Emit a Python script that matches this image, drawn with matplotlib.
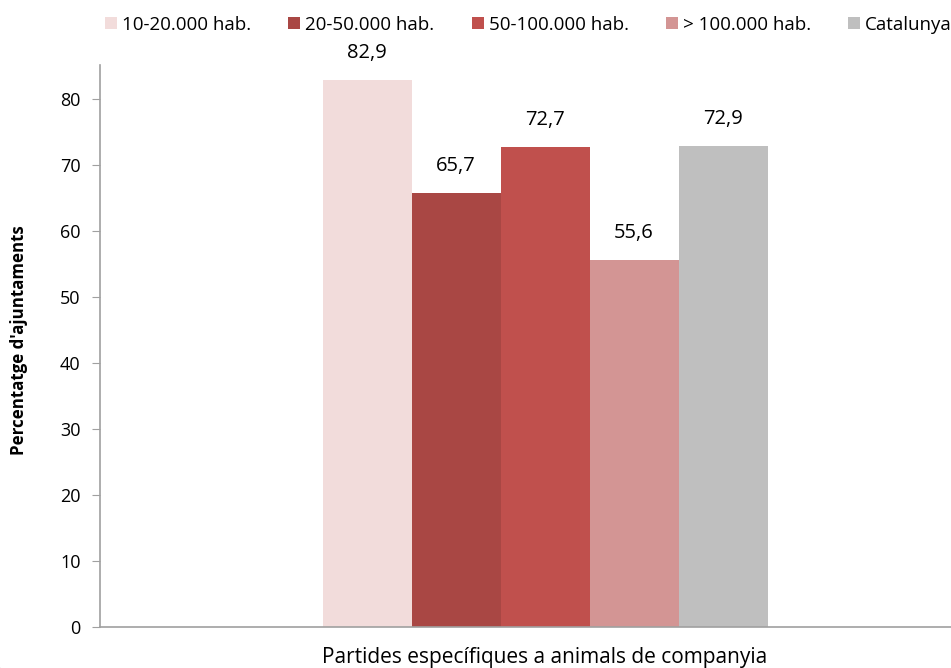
import matplotlib
matplotlib.use("Agg")
import matplotlib.pyplot as plt
from matplotlib.patches import Arc
import numpy as np

categories = ["Partides específiques a animals de companyia"]
series = ["10-20.000 hab.", "20-50.000 hab.", "50-100.000 hab.", "> 100.000 hab.", "Catalunya"]
values = [82.9, 65.7, 72.7, 55.6, 72.9]
labels = ["82,9", "65,7", "72,7", "55,6", "72,9"]
colors = ["#F2DCDB", "#A94744", "#C0504D", "#D39594", "#BFBFBF"]

plt.rcParams['font.family'] = ['Open Sans', 'DejaVu Sans']

fig = plt.figure(figsize=(9.51, 6.68), dpi=100)
ax = fig.add_axes([100/951, 1-627/668, 890/951, (627-65)/668])

n = len(series)
w = 0.1
x0 = 0
for i, (s, v, lab, c) in enumerate(zip(series, values, labels, colors)):
    xpos = x0 + (i - (n-1)/2) * w
    ax.bar(xpos, v, width=w, color=c, label=s, edgecolor='none')
    ax.text(xpos, v + 4.1, lab, ha='center', va='center', fontsize=14.5, color='#000000')

ax.set_xlim(-0.5, 0.5)
ax.set_ylim(0, 85.15)
ax.set_yticks(np.arange(0, 81, 10))
ax.tick_params(axis='y', labelsize=13, length=6, color='#A0A0A0', direction='out', pad=8)
ax.set_xticks([])
for sp in ['top', 'right']:
    ax.spines[sp].set_visible(False)
ax.spines['left'].set_color('#A0A0A0')
ax.spines['bottom'].set_color('#A0A0A0')
ax.spines['left'].set_linewidth(1.2)
ax.spines['bottom'].set_linewidth(1.2)
ax.set_ylabel("Percentatge d'ajuntaments", fontsize=12.2, fontweight='bold')
ax.yaxis.set_label_coords(-72/890, 0.51)
ax.set_xlabel(categories[0], fontsize=15)
ax.xaxis.set_label_coords((545-100)/890, -30/562)
ax.xaxis.label.set_va('center')

handles, lbls = ax.get_legend_handles_labels()
fig.legend(handles, lbls, loc='center left', bbox_to_anchor=(105/951, 0.963), ncol=5, frameon=False,
           fontsize=13.5, handlelength=0.64, handleheight=0.64, handletextpad=0.27, columnspacing=1.98,
           borderaxespad=0, borderpad=0)

corner = Arc((0.28, 0.28), 0.8, 0.8, theta1=180, theta2=270, transform=fig.dpi_scale_trans,
             edgecolor='#C8C8C8', linewidth=1.2, clip_on=False)
fig.add_artist(corner)

fig.savefig("out.png", dpi=100)
